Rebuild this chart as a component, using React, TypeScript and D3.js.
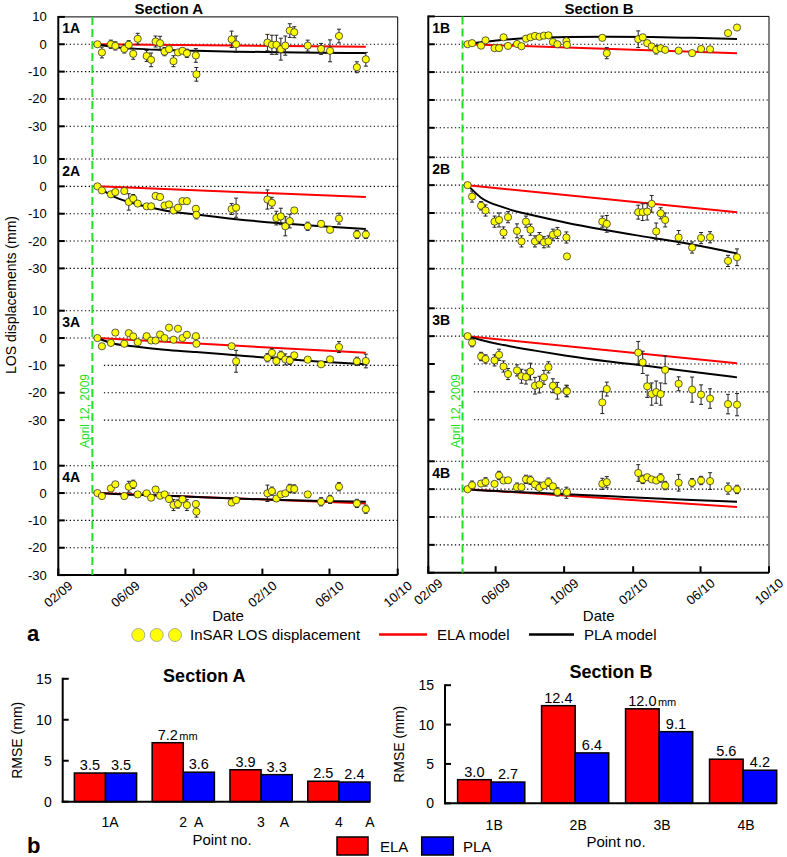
import React from 'react';
import * as d3 from 'd3';

// acquisition dates (shared by all points)
const dates = [
  '2009-04-12', '2009-04-20', '2009-05-06', '2009-05-14', '2009-05-30', '2009-06-07', '2009-06-15',
  '2009-06-23', '2009-07-09', '2009-07-17', '2009-07-25', '2009-08-02', '2009-08-10', '2009-08-18',
  '2009-08-26', '2009-09-03', '2009-09-11', '2009-09-19', '2009-10-05', '2009-10-06', '2009-12-08',
  '2009-12-16', '2010-02-10', '2010-02-18', '2010-02-26', '2010-03-06', '2010-03-14', '2010-03-22',
  '2010-03-30', '2010-04-23', '2010-05-17', '2010-06-02', '2010-06-18', '2010-07-20', '2010-08-05',
];

// InSAR LOS displacement (mm) and error bars
const disp1A = [0, -3.0, 0, -0.6, -1.7, -0.2, -3.5, 2.0, -4.3, -5.7, 1.0, 0.4, -2.7, -1.8, -6.2, -3.0, -2.4, -3.3, -4.1, -11.0, 1.8, 0, 0.6, -0.2, -0.2, -1.8, -0.5, 5.0, 4.4, -0.5, -1.7, -2.4, 3.0, -8.4, -5.5];
const err1A = [0.5, 2, 1.5, 1.5, 1.5, 1.5, 2, 2, 2, 2.5, 2, 2.5, 1.5, 1, 2, 1, 1, 1.5, 2.5, 2.5, 3, 3, 3, 3.5, 3.5, 4, 3.5, 2.5, 2, 2, 2, 4, 2.5, 2, 2.5];
const disp1B = [0, 0.4, -0.5, 1.4, -1.4, -1.4, 2.5, -0.6, 0.1, -0.7, 2.0, 2.5, 3.0, 2.7, 3.1, 3.2, 0.8, 0, 1.1, -0.2, 2.3, -3.2, 1.8, 2.5, 0.4, -0.8, -2.0, -1.4, -2.0, -2.3, -3.2, -1.7, -1.8, 4.0, 6.0];
const err1B = [0.5, 0.6, 0.6, 0.6, 0.6, 0.6, 0.6, 0.6, 0.6, 0.6, 0.6, 0.6, 0.6, 0.6, 0.6, 0.6, 0.6, 0.6, 0.8, 0.6, 0.6, 2, 3, 0.8, 0.6, 0.6, 1.5, 0.6, 0.6, 0.6, 0.6, 0.6, 0.6, 0.6, 0.6];
const disp2A = [0, -1.5, -2.9, -2.1, -1.7, -5.7, -4.5, -6.3, -7.3, -7.3, -3.5, -3.9, -7.0, -6.6, -8.8, -7.8, -5.4, -5.4, -8.2, -10.4, -8.3, -7.8, -4.8, -6.0, -11.6, -11.0, -14.6, -12.7, -8.8, -14.6, -13.7, -15.9, -11.8, -17.6, -17.6];
const err2A = [0.5, 1, 1, 1, 1, 3, 1.5, 1, 1, 1, 1, 1, 1, 1, 1, 1, 1, 1, 1, 1.5, 2, 3.5, 3.5, 2, 2.5, 3, 3.5, 2.5, 1, 1.5, 1, 1, 2, 1.5, 1.5];
const disp2B = [0, -4.1, -7.4, -9.1, -13.1, -12.5, -17.0, -11.5, -16.4, -20.2, -13.1, -16.0, -20.2, -19.0, -20.5, -20.2, -17.8, -17.2, -18.8, -25.6, -13.1, -13.9, -9.7, -9.7, -9.5, -6.7, -16.6, -10.1, -12.5, -18.8, -22.4, -19.0, -18.7, -27.2, -25.9];
const err2B = [0.5, 2, 1.5, 2, 2, 2.5, 2, 2, 2.5, 2, 2, 2, 2, 2, 2, 2, 2, 2, 2, 1, 2, 3, 2.5, 3, 3, 3, 3, 2, 2.5, 2.5, 2, 2, 2, 2, 3];
const disp3A = [0, -3.0, -1.8, 2.0, -2.1, 1.8, 0.6, -1.5, 0.7, -0.9, -0.9, 1.3, 0, 3.8, -0.6, 3.4, 0, 1.2, 0.7, -2.1, -3.0, -8.5, -7.2, -5.4, -8.4, -6.3, -7.8, -8.2, -6.3, -7.9, -9.6, -7.8, -3.3, -8.5, -8.4];
const err3A = [0.5, 0.7, 0.7, 0.7, 0.7, 0.7, 0.7, 0.7, 0.7, 0.7, 0.7, 0.7, 0.7, 0.7, 0.7, 0.7, 0.7, 1, 0.7, 0.7, 0.7, 4, 1.5, 1.5, 1.5, 1.5, 2, 1.5, 0.7, 0.7, 0.7, 0.7, 2, 1.5, 2.5];
const disp3B = [0, -2.3, -7.3, -8.2, -8.7, -6.7, -10.9, -13.6, -12.3, -14.4, -14.7, -12.7, -17.8, -17.4, -14.8, -11.2, -17.8, -19.6, -19.6, -19.8, -23.8, -19.0, -5.9, -9.4, -18.0, -20.8, -20.1, -20.8, -12.1, -17.1, -19.2, -21.0, -22.4, -24.4, -24.6];
const err3B = [0.5, 1.5, 1.5, 1.5, 2, 2, 2, 2, 2, 2.5, 2.5, 3, 3, 3, 2.5, 2, 2.5, 3, 2, 2, 4, 2.5, 4, 4, 4, 4, 4, 4, 5, 2.5, 4.5, 3.5, 3.5, 3.5, 4];
const disp4A = [0, -1.1, 1.7, 3.2, -1.1, 2.3, 3.2, -0.5, -0.1, -1.7, 1.3, -1.0, -0.5, -2.2, -4.4, -4.0, -2.3, -4.4, -4.0, -6.8, -3.5, -2.6, -0.1, 0.7, -2.0, -0.5, -0.1, 1.7, 1.5, -0.5, -3.2, -2.3, 2.3, -3.8, -5.9];
const err4A = [0.5, 0.7, 0.7, 0.7, 1, 2, 1.5, 0.7, 0.7, 0.7, 1, 0.7, 0.7, 0.7, 2, 1.5, 0.7, 2, 1, 2, 0.7, 0.7, 3, 1.5, 1, 0.7, 0.7, 1.5, 1.5, 1, 1.5, 1.5, 1.5, 1.5, 1.5];
const disp4B = [0, 1.4, 2.0, 2.6, 1.9, 4.9, 3.1, 3.2, 0.7, 0.7, 3.5, 3.2, 1.7, 0.5, 1.4, 2.5, 1.0, -1.0, -1.3, -1.1, 1.9, 2.5, 5.8, 3.5, 4.3, 3.5, 3.1, 4.0, 1.3, 2.3, 2.3, 3.1, 2.9, 0.2, -0.1];
const err4B = [0.5, 1.5, 0.7, 1.5, 0.7, 1.5, 0.7, 0.7, 1.5, 1, 1.5, 1.5, 0.7, 2, 0.7, 1.5, 0.7, 1.5, 2, 0.7, 2, 2, 3, 1.5, 0.7, 0.7, 0.7, 1.5, 1.5, 3, 1.5, 1.5, 3, 2, 1.5];

// model curves
const modelDates = ['2009-04-12', '2009-05-06', '2009-06-15', '2009-08-10', '2009-10-05', '2009-12-16', '2010-03-06', '2010-05-17', '2010-08-05'];
const pla1A = [0, -0.9, -1.6, -2.1, -2.4, -2.7, -2.9, -3.1, -3.2];
const pla1B = [0, 0.7, 1.6, 2.3, 2.6, 2.7, 2.6, 2.3, 1.9];
const pla2A = [0, -3.2, -6.2, -8.8, -10.3, -12.0, -13.5, -14.6, -15.6];
const pla2B = [0, -4.5, -8.0, -11.0, -13.5, -16.2, -18.9, -21.3, -24.5];
const pla3A = [0, -1.8, -3.0, -4.3, -5.1, -6.3, -7.6, -8.7, -9.6];
const pla3B = [0, -1.4, -3.2, -5.2, -7.0, -9.0, -10.9, -12.8, -14.8];
const pla4A = [0, -0.3, -0.6, -1.0, -1.4, -2.0, -2.5, -2.9, -3.2];
const pla4B = [0, -0.4, -0.8, -1.3, -1.8, -2.5, -3.3, -3.9, -4.5];
const elaDates = ['2009-04-12', '2010-08-05'];
const ela1A = [0, -0.9];
const ela1B = [0, -3.2];
const ela2A = [0, -3.9];
const ela2B = [0, -9.7];
const ela3A = [0, -5.4];
const ela3B = [0, -9.7];
const ela4A = [0, -3.8];
const ela4B = [0, -6.4];

const yTicks = [10, 0, -10, -20, -30];
const xTickDates = ['2009-02-01', '2009-06-01', '2009-10-01', '2010-02-01', '2010-06-01', '2010-10-01'];
const eventDate = '2009-04-03';

// RMSE bars
const pointsA = ['1A', '2  A', '3    A', '4      A'];
const pointsB = ['1B', '2B', '3B', '4B'];
const elaRmseA = [3.5, 7.2, 3.9, 2.5];
const plaRmseA = [3.5, 3.6, 3.3, 2.4];
const elaRmseB = [3.0, 12.4, 12.0, 5.6];
const plaRmseB = [2.7, 6.4, 9.1, 4.2];
const rmseTicks = [0, 5, 10, 15];

const panels = [
  { name: '1A', side: 0, row: 0, disp: disp1A, err: err1A, pla: pla1A, ela: ela1A },
  { name: '2A', side: 0, row: 1, disp: disp2A, err: err2A, pla: pla2A, ela: ela2A },
  { name: '3A', side: 0, row: 2, disp: disp3A, err: err3A, pla: pla3A, ela: ela3A },
  { name: '4A', side: 0, row: 3, disp: disp4A, err: err4A, pla: pla4A, ela: ela4A },
  { name: '1B', side: 1, row: 0, disp: disp1B, err: err1B, pla: pla1B, ela: ela1B },
  { name: '2B', side: 1, row: 1, disp: disp2B, err: err2B, pla: pla2B, ela: ela2B },
  { name: '3B', side: 1, row: 2, disp: disp3B, err: err3B, pla: pla3B, ela: ela3B },
  { name: '4B', side: 1, row: 3, disp: disp4B, err: err4B, pla: pla4B, ela: ela4B },
];

const font = 'Liberation Sans, Arial, Helvetica, sans-serif';
const green = '#22dd22';
const parse = d3.timeParse('%Y-%m-%d');
const fmtTick = d3.timeFormat('%m/%y');
const fmtVal = d3.format('.1f');

function TimePanels() {
  const xDomain = [parse('2009-02-01'), parse('2010-10-01')];
  const sides = [
    { x0: 58.3, x1: 397.7, tops: [16.9, 159, 310.7, 465.7], span: 109.4, title: 'Section A', titleX: 168.7 },
    { x0: 428.3, x1: 769, tops: [16.4, 157.3, 308.3, 461.3], span: 111.4, title: 'Section B', titleX: 599 },
  ];

  return (
    <g>
      {sides.map((s, si) => {
        const x = d3.scaleTime().domain(xDomain).range([s.x0, s.x1]);
        const ys = s.tops.map(t => d3.scaleLinear().domain([10, -30]).range([t, t + s.span]));
        const top = s.tops[0];
        const bottom = s.tops[3] + s.span;
        const gx = x(parse(eventDate));
        const labelY = 411;
        return (
          <g key={si}>
            <text x={s.titleX} y={14} textAnchor="middle" fontSize={15} fontWeight="bold">{s.title}</text>
            <line x1={s.x0} x2={s.x1} y1={top} y2={top} stroke="#000" strokeWidth={1} />
            <line x1={s.x1} x2={s.x1} y1={top} y2={bottom} stroke="#000" strokeWidth={1} />
            {ys.map((y, r) => yTicks.map(v => {
              if ((r === 0 && v === 10) || (r === 3 && v === -30)) return null;
              return <line key={r + '_' + v} x1={s.x0} x2={s.x1} y1={y(v)} y2={y(v)}
                stroke="#000" strokeWidth={1.1} strokeDasharray="1.3 2.5" />;
            }))}
            <rect x={s.x0 + 1.5} y={356} width={gx + 10 - s.x0 - 1.5} height={100} fill="#fff" />
            <line x1={s.x0} x2={s.x0} y1={top - 1} y2={bottom + 1} stroke="#000" strokeWidth={2} />
            <line x1={s.x0 - 1} x2={s.x1} y1={bottom} y2={bottom} stroke="#000" strokeWidth={2} />
            {ys.map((y, r) => yTicks.map(v => (
              <line key={'t' + r + v} x1={s.x0} x2={s.x0 + 6.5} y1={y(v)} y2={y(v)} stroke="#000" strokeWidth={2} />
            )))}
            {si === 0 && ys.map((y, r) => yTicks.map(v => (
              <text key={'l' + r + v} x={s.x0 - 11.5} y={y(v) + 4.5} textAnchor="end" fontSize={13}>{v}</text>
            )))}
            {xTickDates.map(d => {
              const tx = x(parse(d));
              return (
                <g key={d}>
                  <line x1={tx} x2={tx} y1={bottom} y2={bottom - 6.5} stroke="#000" strokeWidth={2} />
                  <text transform={`translate(${tx},${bottom + 19}) rotate(-40)`} textAnchor="middle"
                    dominantBaseline="central" fontSize={13}>{fmtTick(parse(d))}</text>
                </g>
              );
            })}
            <text x={(s.x0 + s.x1) / 2} y={621} textAnchor="middle" fontSize={15}>Date</text>
            <line x1={gx} x2={gx} y1={top} y2={bottom} stroke={green} strokeWidth={2} strokeDasharray="8 4" />
            <text transform={`translate(${gx - 3},${labelY}) rotate(-90)`} textAnchor="middle" fontSize={12}
              fill={green}>April 12, 2009</text>
          </g>
        );
      })}
      {panels.map(p => {
        const s = sides[p.side];
        const x = d3.scaleTime().domain(xDomain).range([s.x0, s.x1]);
        const y = d3.scaleLinear().domain([10, -30]).range([s.tops[p.row], s.tops[p.row] + s.span]);
        const line = d3.line<[string, number]>().x(d => x(parse(d[0]))).y(d => y(d[1]));
        const curve = d3.line<[string, number]>().x(d => x(parse(d[0]))).y(d => y(d[1])).curve(d3.curveMonotoneX);
        const elaPts = elaDates.map((d, i) => [d, p.ela[i]] as [string, number]);
        const plaPts = modelDates.map((d, i) => [d, p.pla[i]] as [string, number]);
        return (
          <g key={p.name}>
            <text x={s.x0 + 4} y={s.tops[p.row] + 16.5} fontSize={14} fontWeight="bold">{p.name}</text>
            <path d={line(elaPts) || ''} fill="none" stroke="#ff0000" strokeWidth={2} />
            <path d={curve(plaPts) || ''} fill="none" stroke="#000" strokeWidth={2} />
            {dates.map((d, i) => {
              const cx = x(parse(d));
              const v = p.disp[i];
              const e = p.err[i];
              return (
                <g key={i}>
                  <line x1={cx} x2={cx} y1={y(v - e)} y2={y(v + e)} stroke="#222" strokeWidth={1} />
                  <line x1={cx - 2} x2={cx + 2} y1={y(v - e)} y2={y(v - e)} stroke="#222" strokeWidth={1} />
                  <line x1={cx - 2} x2={cx + 2} y1={y(v + e)} y2={y(v + e)} stroke="#222" strokeWidth={1} />
                </g>
              );
            })}
            {dates.map((d, i) => (
              <circle key={'c' + i} cx={x(parse(d))} cy={y(p.disp[i])} r={3.6}
                fill="#ffff00" stroke="#333" strokeWidth={0.8} />
            ))}
          </g>
        );
      })}
      <text transform="translate(16,295) rotate(-90)" textAnchor="middle" fontSize={14}>LOS displacements (mm)</text>
    </g>
  );
}

function Legend() {
  const circles = [138.3, 156.7, 175];
  return (
    <g>
      <text x={27} y={641} fontSize={22} fontWeight="bold">a</text>
      {circles.map(cx => (
        <circle key={cx} cx={cx} cy={635} r={6.5} fill="#ffff00" stroke="#999" strokeWidth={0.8} />
      ))}
      <text x={190} y={640} fontSize={15}>InSAR LOS displacement</text>
      <line x1={379} x2={427} y1={634.5} y2={634.5} stroke="#ff0000" strokeWidth={2.5} />
      <text x={437} y={640} fontSize={15}>ELA model</text>
      <line x1={529} x2={574} y1={634.5} y2={634.5} stroke="#000" strokeWidth={2.5} />
      <text x={584} y={640} fontSize={15}>PLA model</text>
    </g>
  );
}

function RmseChart(props: {
  points: string[]; ela: number[]; pla: number[]; axisX: number; endX: number; y0: number; y15: number;
  title: string; titleX: number; titleY: number; mmIndex: number; labelShift: number; labelAnchor: string;
  labelY: number; pointX: number; pointY: number;
}) {
  const { points, ela, pla, axisX, endX, y0, y15 } = props;
  const xb = d3.scaleBand().domain(points).range([axisX, endX]).paddingInner(0.2).paddingOuter(0.075).align(1);
  const sub = d3.scaleBand().domain(['ELA', 'PLA']).range([0, xb.bandwidth()]);
  const y = d3.scaleLinear().domain([0, 15]).range([y0, y15]);
  const fs = 14.5;
  const width = (t: string) => t.split('').reduce((a, c) => a + (c === '.' ? 0.278 : 0.556) * fs, 0);
  return (
    <g>
      <text x={props.titleX} y={props.titleY} textAnchor="middle" fontSize={18} fontWeight="bold">{props.title}</text>
      {points.map((pt, i) => (
        <g key={pt}>
          {[ela[i], pla[i]].map((v, k) => {
            const bx = (xb(pt) || 0) + (sub(k === 0 ? 'ELA' : 'PLA') || 0);
            const cx = bx + sub.bandwidth() / 2;
            const t = fmtVal(v);
            return (
              <g key={k}>
                <rect x={bx} y={y(v)} width={sub.bandwidth()} height={y0 - y(v)}
                  fill={k === 0 ? '#ff0000' : '#0000ff'} stroke="#000" strokeWidth={1.5} />
                <text x={cx} y={y(v) - 3} textAnchor="middle" fontSize={fs}>{t}</text>
                {k === 0 && i === props.mmIndex &&
                  <text x={cx + width(t) / 2 + 1.5} y={y(v) - 3} fontSize={11}>mm</text>}
              </g>
            );
          })}
          <text x={(xb(pt) || 0) + xb.bandwidth() / 2 + props.labelShift} y={props.labelY}
            textAnchor={props.labelAnchor} fontSize={14} style={{ whiteSpace: 'pre' }} xmlSpace="preserve">{pt}</text>
        </g>
      ))}
      <line x1={axisX} x2={axisX} y1={y15 - 1} y2={y0 + 1} stroke="#000" strokeWidth={2} />
      <line x1={axisX - 1} x2={endX} y1={y0} y2={y0} stroke="#000" strokeWidth={2} />
      {rmseTicks.map(v => (
        <g key={v}>
          <line x1={axisX} x2={axisX + 6} y1={y(v)} y2={y(v)} stroke="#000" strokeWidth={2} />
          <text x={axisX - 11} y={y(v) + 5} textAnchor="end" fontSize={14}>{v}</text>
        </g>
      ))}
      <text transform={`translate(${axisX - 41},${(y0 + y15) / 2}) rotate(-90)`} textAnchor="middle" fontSize={14}>RMSE (mm)</text>
      <text x={props.pointX} y={props.pointY} textAnchor="middle" fontSize={15}>Point no.</text>
    </g>
  );
}

export default function App() {
  return (
    <svg width={787} height={857} style={{ position: 'absolute', left: 0, top: 0, background: '#fff' }}
      fontFamily={font}>
      <rect width={787} height={857} fill="#fff" />
      <TimePanels />
      <Legend />
      <RmseChart points={pointsA} ela={elaRmseA} pla={plaRmseA} axisX={62.7} endX={370} y0={801.7} y15={678.8}
        title="Section A" titleX={204.3} titleY={682} mmIndex={1} labelShift={-4} labelAnchor="start"
        labelY={827} pointX={222} pointY={845} />
      <RmseChart points={pointsB} ela={elaRmseB} pla={plaRmseB} axisX={445} endX={776.7} y0={803.3} y15={685.2}
        title="Section B" titleX={611} titleY={678} mmIndex={2} labelShift={3} labelAnchor="middle"
        labelY={830} pointX={616} pointY={847} />
      <text x={27} y={853} fontSize={22} fontWeight="bold">b</text>
      <rect x={337} y={837} width={31} height={18} fill="#ff0000" stroke="#000" strokeWidth={1.5} />
      <text x={380} y={852} fontSize={15}>ELA</text>
      <rect x={421.7} y={837} width={31.6} height={18} fill="#0000ff" stroke="#000" strokeWidth={1.5} />
      <text x={463} y={852} fontSize={15}>PLA</text>
    </svg>
  );
}
